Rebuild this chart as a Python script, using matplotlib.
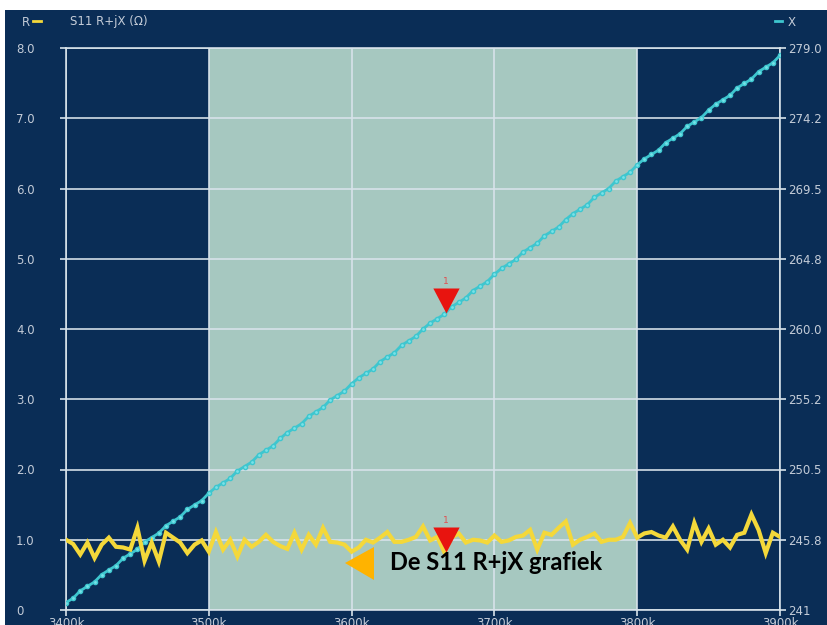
import matplotlib
matplotlib.use("Agg")
import matplotlib.pyplot as plt
from matplotlib.lines import Line2D
from matplotlib.patches import Rectangle, Polygon

# ---------------- data ----------------
freq_k = [3400 + 5 * i for i in range(101)]

r_values = [
    1.00, 0.94, 0.79, 0.96, 0.74, 0.93, 1.03, 0.90, 0.89, 0.86,
    1.17, 0.70, 0.96, 0.69, 1.10, 1.03, 0.96, 0.81, 0.93, 0.99,
    0.83, 1.11, 0.86, 1.00, 0.76, 1.00, 0.90, 0.97, 1.07, 0.97,
    0.91, 0.87, 1.10, 0.86, 1.07, 0.93, 1.17, 0.97, 0.96, 0.93,
    0.83, 0.89, 1.00, 0.96, 1.03, 1.11, 0.97, 0.97, 1.00, 1.04,
    1.19, 0.99, 1.04, 0.82, 1.03, 1.09, 0.96, 1.00, 0.99, 0.96,
    1.06, 0.97, 0.99, 1.04, 1.06, 1.14, 0.86, 1.10, 1.07, 1.17,
    1.26, 0.93, 1.00, 1.04, 1.09, 0.97, 1.00, 1.00, 1.04, 1.24,
    1.03, 1.09, 1.11, 1.06, 1.03, 1.19, 1.00, 0.86, 1.24, 0.97,
    1.16, 0.93, 1.00, 0.89, 1.07, 1.10, 1.36, 1.14, 0.81, 1.10,
    1.04,
]

x_values = [
    241.5, 241.8, 242.3, 242.6, 242.9, 243.4, 243.7, 244.0, 244.5, 244.8,
    245.1, 245.6, 245.9, 246.2, 246.7, 247.0, 247.3, 247.8, 248.1, 248.4,
    248.9, 249.3, 249.6, 249.9, 250.4, 250.7, 251.0, 251.5, 251.8, 252.1,
    252.6, 253.0, 253.3, 253.6, 254.1, 254.4, 254.7, 255.2, 255.5, 255.8,
    256.3, 256.7, 257.0, 257.3, 257.8, 258.1, 258.4, 258.9, 259.2, 259.5,
    260.0, 260.4, 260.7, 261.0, 261.5, 261.8, 262.1, 262.6, 262.9, 263.2,
    263.7, 264.1, 264.4, 264.7, 265.2, 265.5, 265.8, 266.3, 266.6, 266.9,
    267.4, 267.8, 268.1, 268.4, 268.9, 269.2, 269.5, 270.0, 270.3, 270.6,
    271.1, 271.5, 271.8, 272.1, 272.6, 272.9, 273.2, 273.7, 274.0, 274.3,
    274.8, 275.2, 275.5, 275.8, 276.3, 276.6, 276.9, 277.4, 277.7, 278.0,
    278.5,
]

x_ticks_k = [3400, 3500, 3600, 3700, 3800, 3900]
x_tick_labels = ["3400k", "3500k", "3600k", "3700k", "3800k", "3900k"]
r_ticks = [0, 1, 2, 3, 4, 5, 6, 7, 8]
r_tick_labels = ["0", "1.0", "2.0", "3.0", "4.0", "5.0", "6.0", "7.0", "8.0"]
x_ticks = [241, 245.75, 250.5, 255.25, 260.0, 264.75, 269.5, 274.25, 279.0]
x_tick_labels_right = ["241", "245.8", "250.5", "255.2", "260.0", "264.8", "269.5", "274.2", "279.0"]

band_start_k, band_end_k = 3500, 3800
marker_k = 3666
marker_r = 0.82
marker_x = 261.1
title = "S11 R+jX (\u03a9)"
annotation = "De S11 R+jX grafiek"

# ---------------- style ----------------
W, H = 828, 625
NAVY = "#0a2d56"
BAND = "#a6c8c0"
GRID = "#d8e3ea"
CYAN = "#3ec6cf"
YELLOW = "#f4d83a"
LABEL = "#c4ccd8"
RED = "#e8140f"

fig = plt.figure(figsize=(W / 100, H / 100), dpi=100, facecolor="white")
fig.add_artist(Rectangle((5 / W, 0), 1, 1 - 10 / H, transform=fig.transFigure,
                         facecolor=NAVY, edgecolor="none", zorder=0))

L, R_, T, B = 66, 780, 48, 610
ax = fig.add_axes([L / W, 1 - B / H, (R_ - L) / W, (B - T) / H])
ax.set_facecolor(NAVY)
ax.set_xlim(3400, 3900)
ax.set_ylim(0, 8)
ax.axvspan(band_start_k, band_end_k, color=BAND, zorder=0.5, lw=0)

ax.set_xticks(x_ticks_k)
ax.set_xticklabels(x_tick_labels)
ax.set_yticks(r_ticks)
ax.set_yticklabels(r_tick_labels)
ax.grid(True, color=GRID, lw=1.3, alpha=0.9, zorder=1)
ax.set_axisbelow(False)
for s in ax.spines.values():
    s.set_color(GRID)
    s.set_linewidth(1.3)
    s.set_alpha(0.9)
ax.tick_params(axis="both", colors=GRID, length=4, width=1.2,
               labelcolor=LABEL, labelsize=8.5)
ax.tick_params(axis="x", pad=1.0)
ax.tick_params(axis="y", pad=32)
for lab in ax.get_yticklabels():
    lab.set_horizontalalignment("left")

ax2 = ax.twinx()
ax2.set_ylim(241, 279)
ax2.set_yticks(x_ticks)
ax2.set_yticklabels(x_tick_labels_right)
ax2.tick_params(axis="y", colors=GRID, length=4, width=1.2,
                labelcolor=LABEL, labelsize=8.5, pad=2)
for s in ax2.spines.values():
    s.set_visible(False)
ax.set_zorder(0)
ax2.set_zorder(1)
ax2.patch.set_visible(False)

ax2.plot(freq_k, x_values, color=CYAN, lw=2.0, marker="o", ms=3.0,
         mec=CYAN, mfc="#78e2e8", zorder=3)
r_on_x = [v * (279 - 241) / 8 + 241 for v in r_values]
ax2.plot(freq_k, r_on_x, color=YELLOW, lw=3.0, zorder=4, solid_joinstyle="miter")

tri = [(-1, 1.9), (1, 1.9), (0, 0)]
marker_r_on_x = marker_r * (279 - 241) / 8 + 241
ax2.plot([marker_k], [marker_x], marker=tri, ms=36, color=RED, mec="none", zorder=6)
ax2.plot([marker_k], [marker_r_on_x], marker=tri, ms=36,
         color=RED, mec="none", zorder=6)
for yv in (marker_x, marker_r_on_x):
    ax2.annotate("1", (marker_k, yv), xytext=(0, 19.5), textcoords="offset points",
                 ha="center", va="bottom", color="#e05050", fontsize=6.5, zorder=6)

# header texts
def fx(px):
    return px / W

def fy(py):
    return 1 - py / H

fig.text(fx(22), fy(22), "R", color=LABEL, fontsize=8.5, va="center", ha="left")
fig.add_artist(Line2D([fx(33), fx(41)], [fy(21), fy(21)], transform=fig.transFigure,
                      color=YELLOW, lw=2))
fig.text(fx(70), fy(22), title, color=LABEL, fontsize=8.5, va="center", ha="left")
fig.add_artist(Line2D([fx(775), fx(782)], [fy(21), fy(21)], transform=fig.transFigure,
                      color=CYAN, lw=2))
fig.text(fx(788), fy(22), "X", color=LABEL, fontsize=8.5, va="center", ha="left")

# annotation
fig.add_artist(Polygon([(fx(345), fy(563)), (fx(374), fy(547)), (fx(374), fy(580))],
                       closed=True, transform=fig.transFigure,
                       facecolor="#ffb300", edgecolor="none", zorder=10))
fig.text(fx(390), fy(563), annotation, color="black", fontsize=17,
         fontweight="bold", family=["Lato", "DejaVu Sans"], va="center", ha="left",
         zorder=10)

fig.savefig("out.png", dpi=100, facecolor="white")
